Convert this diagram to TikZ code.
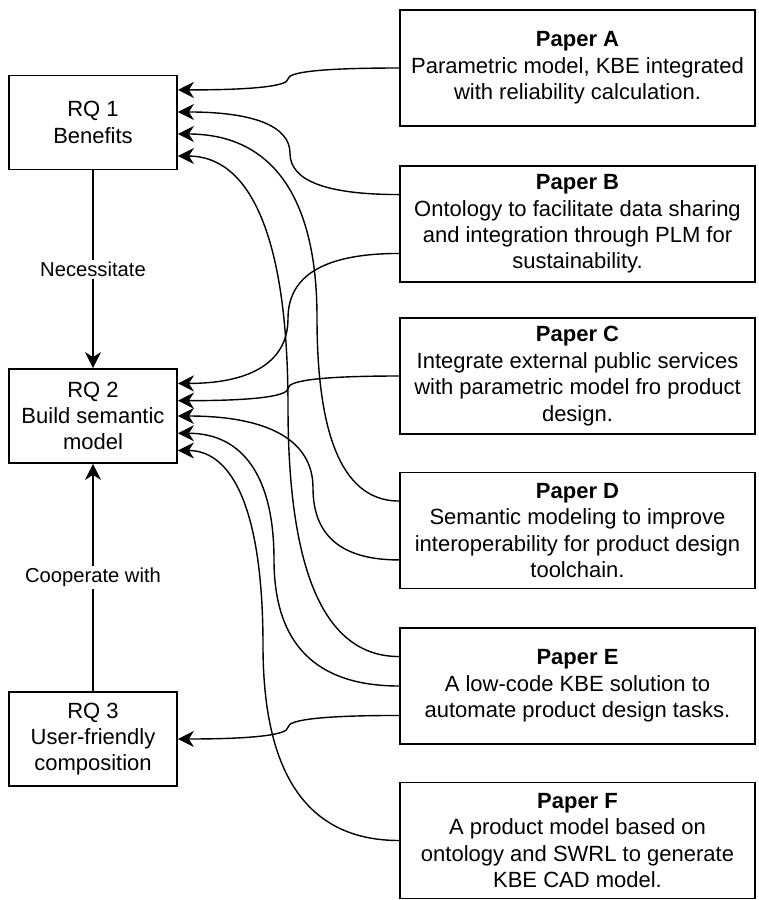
\documentclass[tikz,border=0pt]{standalone}
\usepackage{fontspec}
\setmainfont{Liberation Sans}
\usetikzlibrary{arrows.meta,calc}
% curved connector in the style of a rounded orthogonal route: #1 source, #2 target, #3 x of the vertical part
\newcommand\qedge[3]{%
  \coordinate (qx) at (#3,0);
  \coordinate (qca) at (#1 -| qx);
  \coordinate (qcb) at (#2 -| qx);
  \coordinate (qmid) at ($(#1)!0.5!(#2)$);
  \coordinate (qm) at (qmid -| qx);
  \draw[edge] (#1) .. controls ($(#1)!2/3!(qca)$) and ($(qm)!2/3!(qca)$) .. (qm)
     .. controls ($(qm)!2/3!(qcb)$) and ($(#2)!2/3!(qcb)$) .. (#2);
}
\begin{document}
\begin{tikzpicture}[x=1pt,y=-1pt,
  box/.style={draw, line width=1.8pt, align=center, inner sep=0pt, font=\fontsize{22}{26.4}\selectfont},
  rqbox/.style={box, minimum width=168pt, minimum height=94pt},
  paper/.style={box, minimum width=355pt, minimum height=116pt},
  edge/.style={line width=1.4pt, -{Stealth[length=16pt,width=16pt,inset=5pt]}},
  lbl/.style={fill=white, inner sep=2pt, font=\fontsize{20.2}{24}\selectfont}]
\useasboundingbox (0,0) rectangle (759,900);

% research questions
\node[rqbox] (rq1) at (93,122.5) {RQ 1\\Benefits};
\node[rqbox] (rq2) at (93,416) {RQ 2\\Build semantic\\model};
\node[rqbox] (rq3) at (93,739) {RQ 3\\User-friendly\\composition};

% papers
\node[paper] (pA) at (577.5,68) {\textbf{Paper A}\\Parametric model, KBE integrated\\with reliability calculation.};
\node[paper] (pB) at (577.5,224) {\textbf{Paper B}\\Ontology to facilitate data sharing\\and integration through PLM for\\sustainability.};
\node[paper] (pC) at (577.5,376) {\textbf{Paper C}\\Integrate external public services\\with parametric model fro product\\design.};
\node[paper] (pD) at (577.5,530.5) {\textbf{Paper D}\\Semantic modeling to improve\\interoperability for product design\\toolchain.};
\node[paper] (pE) at (577.5,686) {\textbf{Paper E}\\A low-code KBE solution to\\automate product design tasks.};
\node[paper] (pF) at (577.5,840.5) {\textbf{Paper F}\\A product model based on\\ontology and SWRL to generate\\KBE CAD model.};

% ports on papers
\coordinate (a1) at (pA.west);
\coordinate (b1) at ($(pB.north west)!0.25!(pB.south west)$);
\coordinate (b2) at ($(pB.north west)!0.75!(pB.south west)$);
\coordinate (c1) at (pC.west);
\coordinate (d1) at ($(pD.north west)!0.25!(pD.south west)$);
\coordinate (d2) at ($(pD.north west)!0.75!(pD.south west)$);
\coordinate (e1) at ($(pE.north west)!0.25!(pE.south west)$);
\coordinate (e2) at (pE.west);
\coordinate (e3) at ($(pE.north west)!0.75!(pE.south west)$);
\coordinate (f1) at (pF.west);

% ports on research questions
\coordinate (r11) at ($(rq1.north east)!0.16!(rq1.south east)$);
\coordinate (r12) at ($(rq1.north east)!0.39!(rq1.south east)$);
\coordinate (r13) at ($(rq1.north east)!0.62!(rq1.south east)$);
\coordinate (r14) at ($(rq1.north east)!0.85!(rq1.south east)$);
\coordinate (r21) at ($(rq2.north east)!0.16!(rq2.south east)$);
\coordinate (r22) at ($(rq2.north east)!0.34!(rq2.south east)$);
\coordinate (r23) at ($(rq2.north east)!0.5!(rq2.south east)$);
\coordinate (r24) at ($(rq2.north east)!0.68!(rq2.south east)$);
\coordinate (r25) at ($(rq2.north east)!0.86!(rq2.south east)$);
\coordinate (r31) at (rq3.east);

% connectors from papers
\qedge{a1}{r11}{288}
\qedge{b1}{r12}{290}
\qedge{b2}{r21}{288}
\qedge{c1}{r22}{288}
\qedge{d1}{r13}{317}
\qedge{d2}{r23}{313}
\qedge{e1}{r14}{288}
\qedge{e2}{r24}{274}
\qedge{e3}{r31}{288}
\qedge{f1}{r25}{263}

% vertical connectors between research questions
\draw[edge] (rq1.south) -- (rq2.north);
\node[lbl] (lnec) at ($(rq1.south)!0.5!(rq2.north)$) {Necessitate};
\draw[edge] (rq3.north) -- (rq2.south);
\node[lbl] (lcoop) at ($(rq3.north)!0.5!(rq2.south)$) {Cooperate with};
\end{tikzpicture}
\end{document}
